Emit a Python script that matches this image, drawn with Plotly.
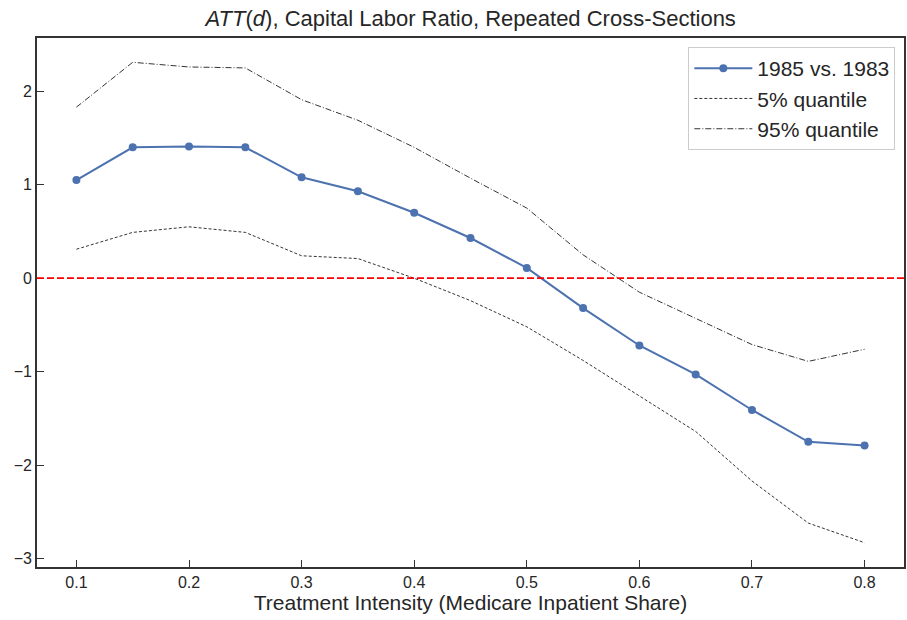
import plotly.graph_objects as go

dose = [0.1, 0.15, 0.2, 0.25, 0.3, 0.35, 0.4, 0.45, 0.5, 0.55, 0.6, 0.65, 0.7, 0.75, 0.8]
att = [1.05, 1.40, 1.41, 1.40, 1.08, 0.93, 0.70, 0.43, 0.11, -0.32, -0.72, -1.03, -1.41, -1.75, -1.79]
q05 = [0.31, 0.49, 0.55, 0.49, 0.24, 0.21, 0.00, -0.24, -0.52, -0.88, -1.26, -1.64, -2.17, -2.62, -2.83]
q95 = [1.83, 2.31, 2.26, 2.25, 1.91, 1.69, 1.40, 1.07, 0.75, 0.25, -0.15, -0.43, -0.71, -0.89, -0.76]

x_ticks = [0.1, 0.2, 0.3, 0.4, 0.5, 0.6, 0.7, 0.8]
y_ticks = [-3, -2, -1, 0, 1, 2]

FONT = "Liberation Sans, Arial, sans-serif"
TXT = "#262626"

fig = go.Figure()
fig.add_trace(go.Scatter(x=dose, y=att, mode="lines+markers", name="1985 vs. 1983",
                         line=dict(color="#4C72B0", width=2),
                         marker=dict(color="#4C72B0", size=8)))
fig.add_trace(go.Scatter(x=dose, y=q05, mode="lines", name="5% quantile",
                         line=dict(color="black", width=0.8, dash="3px,2px")))
fig.add_trace(go.Scatter(x=dose, y=q95, mode="lines", name="95% quantile",
                         line=dict(color="black", width=0.8, dash="6px,2px,1px,2px")))

fig.add_shape(type="line", xref="paper", yref="y", x0=0, x1=1, y0=0, y1=0,
              line=dict(color="red", width=1.8, dash="7px,3px"))

axis_common = dict(showline=True, linecolor="#333333", linewidth=1.6, mirror=True,
                   ticks="inside", ticklen=7, tickwidth=1.3, tickcolor="#333333",
                   showgrid=False, zeroline=False,
                   tickfont=dict(family=FONT, size=16, color=TXT))

fig.update_layout(
    width=907, height=620,
    margin=dict(l=37, r=1, t=38, b=53),
    paper_bgcolor="white", plot_bgcolor="white",
    font=dict(family=FONT, color=TXT),
    title=dict(text="<i>ATT</i>(<i>d</i>), Capital Labor Ratio, Repeated Cross-Sections",
               x=0.519, xanchor="center", y=0.971, yanchor="middle",
               font=dict(family=FONT, size=22, color=TXT)),
    xaxis=dict(range=[0.065, 0.835], tickvals=x_ticks,
               ticktext=[f"{v:.1f}" for v in x_ticks],
               title=dict(text="Treatment Intensity (Medicare Inpatient Share)",
                          font=dict(family=FONT, size=21, color=TXT), standoff=4),
               **axis_common),
    yaxis=dict(range=[-3.09, 2.57], tickvals=y_ticks, **axis_common),
    legend=dict(x=0.99, xanchor="right", y=0.983, yanchor="top",
                bgcolor="rgba(255,255,255,0.8)", bordercolor="#cccccc", borderwidth=1,
                font=dict(family=FONT, size=21, color=TXT), itemwidth=58),
    showlegend=True,
)

fig.write_html("out.html")
